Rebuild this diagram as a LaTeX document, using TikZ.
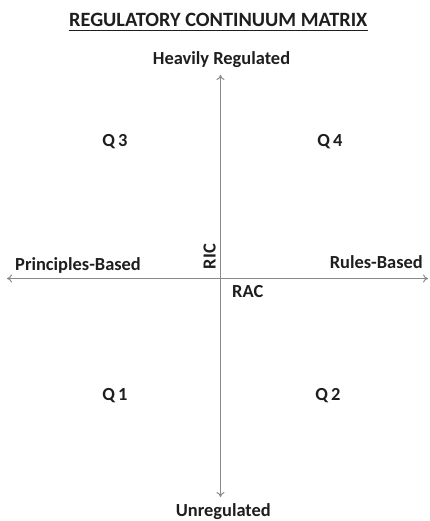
\documentclass[tikz,border=0pt]{standalone}
\usepackage{fontspec}
\setmainfont{Carlito}
\usetikzlibrary{arrows.meta}
\definecolor{axisgray}{HTML}{8A8A8A}
\definecolor{txt}{HTML}{1E1E1E}
\tikzset{
  lbl/.style={font=\bfseries\fontsize{18.5}{21}\selectfont, text=txt, inner sep=0pt, anchor=base},
  ttl/.style={font=\bfseries\fontsize{20.4}{24}\selectfont, text=txt, inner sep=0pt, anchor=base},
  axis/.style={draw=axisgray, line width=1pt, -{To[length=5pt,width=8pt]}},
}
\begin{document}
\begin{tikzpicture}[x=1bp,y=-1bp]
\useasboundingbox (0,0) rectangle (429,521);
\node[ttl] (title) at (218.3,26.8) {REGULATORY CONTINUUM MATRIX};
\coordinate (ul1) at ([xshift=-0.5bp]title.west |- 0,30.8);
\coordinate (ul2) at ([xshift=0.5bp]title.east |- 0,30.8);
\draw[txt, line width=1.2pt] (ul1) -- (ul2);
\coordinate (c) at (220.5,278.5);
\coordinate (top) at (220.5,75);
\coordinate (bot) at (220.5,497);
\coordinate (left) at (7,278.5);
\coordinate (right) at (428,278.5);
\draw[axis] (c) -- (top);
\draw[axis] (c) -- (bot);
\draw[axis] (c) -- (left);
\draw[axis] (c) -- (right);
\node[lbl] (hr) at (221.5,65) {Heavily Regulated};
\node[lbl] (ur) at (223.3,516.5) {Unregulated};
\node[lbl, anchor=base west] (pb) at (15,270) {Principles-Based};
\node[lbl, anchor=base east] (rb) at (423,268.5) {Rules-Based};
\node[lbl, rotate=90, anchor=base] (ric) at (215.5,256.5) {RIC};
\node[lbl, anchor=base west] (rac) at (232,297) {RAC};
\node[lbl] (q3) at (115,147) {Q\,3};
\node[lbl] (q4) at (330,147) {Q\,4};
\node[lbl] (q1) at (115,400) {Q\,1};
\node[lbl] (q2) at (328,400) {Q\,2};
\end{tikzpicture}
\end{document}
